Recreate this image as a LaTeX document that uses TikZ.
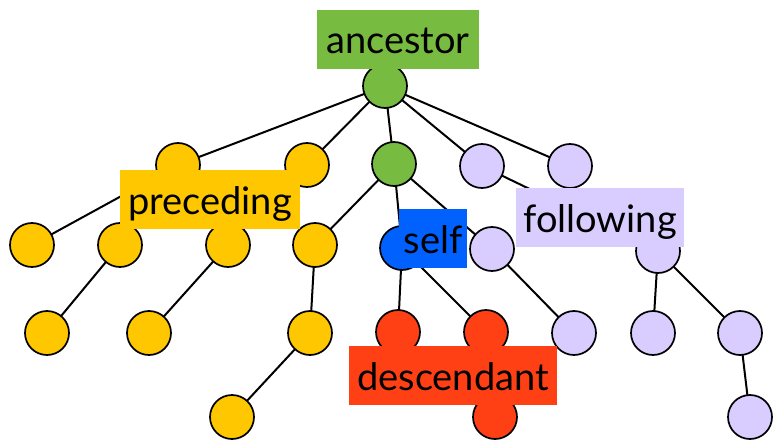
\documentclass[tikz,border=0pt]{standalone}
\usepackage{fontspec}
\setmainfont{Lato}
\usetikzlibrary{backgrounds}
\definecolor{cgreen}{HTML}{77BB41}
\definecolor{cyellow}{HTML}{FEC700}
\definecolor{cpurple}{HTML}{D9CCFE}
\definecolor{cblue}{HTML}{0061FE}
\definecolor{cred}{HTML}{FF4014}
\tikzset{
  nd/.style={circle, draw=black, line width=1.7pt, minimum size=44pt, inner sep=0pt},
  gn/.style={nd, fill=cgreen},
  yn/.style={nd, fill=cyellow},
  pn/.style={nd, fill=cpurple},
  bn/.style={nd, fill=cblue},
  rn/.style={nd, fill=cred},
  edge/.style={line width=2pt, draw=black},
  lab/.style={anchor=base, inner xsep=0pt, inner ysep=0pt, text height=44pt, text depth=15pt, align=center,
    font=\fontsize{38}{42}\selectfont, text=black}
}
\begin{document}
\begin{tikzpicture}[x=1pt,y=-1pt]
\useasboundingbox (0,0) rectangle (776,441);
% nodes
\node[gn] (A) at (385,86) {};
\node[yn] (p1) at (178,165) {};
\node[yn] (p2) at (307,165) {};
\node[gn] (g) at (394,164) {};
\node[pn] (f1) at (482,166) {};
\node[pn] (f2) at (570,166) {};
\node[yn] (p3) at (32,245) {};
\node[yn] (p4) at (120,245) {};
\node[yn] (p5) at (228,245) {};
\node[yn] (p6) at (315,245) {};
\node[bn] (s) at (402,248) {};
\node[pn] (f3) at (492,249) {};
\node[pn] (f4) at (658,251) {};
\node[yn] (p7) at (47,333) {};
\node[yn] (p8) at (149,333) {};
\node[yn] (p9) at (310,333) {};
\node[rn] (d1) at (398,332) {};
\node[rn] (d2) at (486,332) {};
\node[pn] (f5) at (574,333) {};
\node[pn] (f6) at (653,333) {};
\node[pn] (f7) at (740,333) {};
\node[yn] (p10) at (232,417) {};
\node[rn] (d3) at (495,417) {};
\node[pn] (f8) at (750,417) {};
% edges
\begin{pgfonlayer}{background}
\draw[edge] (A.center) -- (p1.center);
\draw[edge] (A.center) -- (p2.center);
\draw[edge] (A.center) -- (g.center);
\draw[edge] (A.center) -- (f1.center);
\draw[edge] (A.center) -- (f2.center);
\draw[edge] (p1.center) -- (p3.center);
\draw[edge] (p1.center) -- (p4.center);
\draw[edge] (p2.center) -- (p5.center);
\draw[edge] (g.center) -- (p6.center);
\draw[edge] (g.center) -- (s.center);
\draw[edge] (g.center) -- (f3.center);
\draw[edge] (f1.center) -- (f4.center);
\draw[edge] (p4.center) -- (p7.center);
\draw[edge] (p5.center) -- (p8.center);
\draw[edge] (p6.center) -- (p9.center);
\draw[edge] (s.center) -- (d1.center);
\draw[edge] (s.center) -- (d2.center);
\draw[edge] (f3.center) -- (f5.center);
\draw[edge] (f4.center) -- (f6.center);
\draw[edge] (f4.center) -- (f7.center);
\draw[edge] (p9.center) -- (p10.center);
\draw[edge] (d2.center) -- (d3.center);
\draw[edge] (f7.center) -- (f8.center);
\end{pgfonlayer}
% labels
\node[lab, fill=cgreen, minimum width=162pt] (lanc) at (398,54) {ancestor};
\node[lab, fill=cyellow, minimum width=180pt] (lpre) at (210,214) {preceding};
\node[lab, fill=cblue, minimum width=68pt] (lself) at (433,253) {self};
\node[lab, fill=cpurple, minimum width=168pt] (lfol) at (600,232) {following};
\node[lab, fill=cred, minimum width=208pt] (ldes) at (453,390) {descendant};
\end{tikzpicture}
\end{document}
